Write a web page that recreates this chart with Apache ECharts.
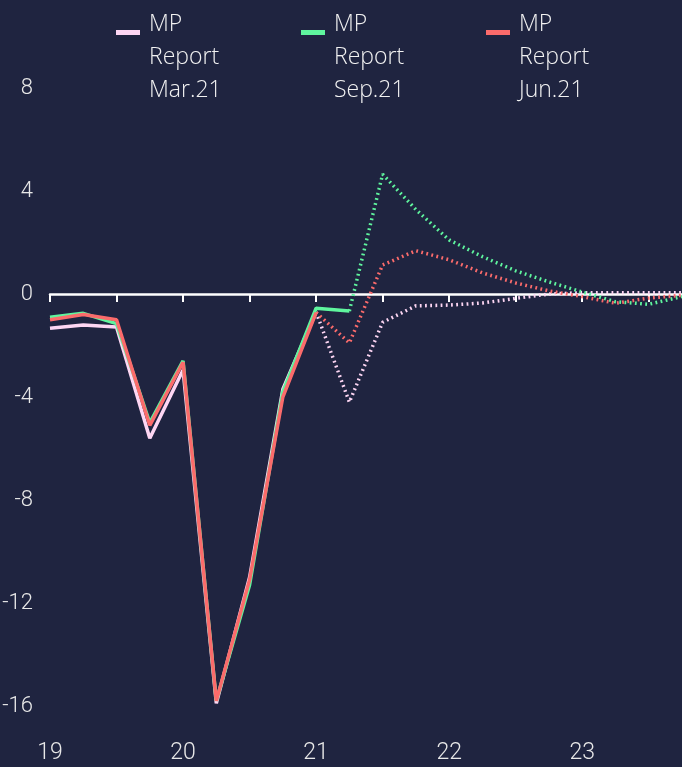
<!DOCTYPE html>
<html>
<head>
<meta charset="utf-8">
<script src="https://cdn.jsdelivr.net/npm/echarts@6/dist/echarts.min.js"></script>
<style>
  html, body { margin: 0; padding: 0; background: #1f2440; }
  #chart { width: 682px; height: 767px; }
</style>
</head>
<body>
<div id="chart"></div>
<script>
// quarters 2019Q1 .. 2023Q4
var quarters = ['19Q1','19Q2','19Q3','19Q4','20Q1','20Q2','20Q3','20Q4',
                '21Q1','21Q2','21Q3','21Q4','22Q1','22Q2','22Q3','22Q4',
                '23Q1','23Q2','23Q3','23Q4'];

var names = ['MP Report Mar.21', 'MP Report Sep.21', 'MP Report Jun.21'];

// outturns (solid) and projections (dotted); projections start at given index
var marActual   = [-1.33, -1.2, -1.28, -5.6, -2.95, -15.9, -11.0, -3.7, -0.7];
var marForecast = [-0.7, -4.2, -1.1, -0.46, -0.43, -0.35, -0.17, 0.0, 0.05, 0.05, 0.05, 0.05];
var marStart = 8;

var sepActual   = [-0.9, -0.75, -1.15, -5.0, -2.6, -15.8, -11.3, -3.8, -0.55, -0.66];
var sepForecast = [-0.66, 4.65, 3.28, 2.1, 1.45, 0.9, 0.47, 0.08, -0.3, -0.4, -0.1];
var sepStart = 9;

var junActual   = [-1.0, -0.8, -1.0, -5.1, -2.65, -15.8, -11.1, -4.0, -0.72];
var junForecast = [-0.72, -1.9, 1.13, 1.68, 1.33, 0.82, 0.43, 0.12, -0.1, -0.36, -0.16, -0.05];
var junStart = 8;

var colors = ['#fdd6f3', '#5ff59e', '#fb6b6b'];

var axisFont = 'Roboto, "Liberation Sans", sans-serif';

function pad(arr, start) {
    var out = [];
    for (var i = 0; i < start; i++) out.push(null);
    return out.concat(arr);
}

function solid(name, data, color) {
    return {
        name: name, type: 'line', data: data, symbol: 'none',
        color: color, lineStyle: { color: color, width: 3.5 }, z: 3
    };
}

function dotted(name, data, start, color) {
    return {
        name: name, type: 'line', data: pad(data, start), symbol: 'none',
        color: color, lineStyle: { color: color, width: 3.5, type: [1.8, 3.4] }, z: 3
    };
}

function legendAt(i, left) {
    return {
        data: [names[i]], left: left, top: -42, padding: 0,
        icon: 'rect', itemWidth: 24, itemHeight: 5,
        // a tall empty first line pushes the name down so "MP" sits beside the icon
        formatter: function (n) {
            return '{s| }\n' + n.split(' ').map(function (w) { return '{t|' + w + '}'; }).join('\n');
        },
        textStyle: {
            color: '#f2f2f2', fontFamily: 'Open Sans', fontSize: 23, lineHeight: 33,
            rich: {
                s: { fontSize: 10, lineHeight: 50 },
                t: {
                    fontFamily: 'Open Sans', fontWeight: 300, fontSize: 23, lineHeight: 33,
                    color: '#f2f2f2', padding: [0, 0, 0, 4]
                }
            }
        }
    };
}

var chart = echarts.init(document.getElementById('chart'), null, { renderer: 'canvas' });

chart.setOption({
    backgroundColor: '#1f2440',
    animation: false,
    legend: [legendAt(0, 116), legendAt(1, 301), legendAt(2, 486)],
    grid: { left: 50, right: 0, top: 88, bottom: 61, containLabel: false, outerBoundsMode: 'none' },
    xAxis: [{
        type: 'category', data: quarters, boundaryGap: false, position: 'bottom',
        axisLine: { onZero: true, lineStyle: { color: '#ffffff', width: 2.5 } },
        axisTick: { show: true, interval: 1, length: 8, lineStyle: { color: '#ffffff', width: 2 } },
        axisLabel: { show: false },
        splitLine: { show: false }
    }, {
        type: 'category', data: quarters, boundaryGap: false, position: 'bottom',
        axisLine: { show: false, onZero: false },
        axisTick: { show: false },
        axisLabel: {
            interval: 3, margin: 36, color: '#e8e8e8',
            fontFamily: axisFont, fontWeight: 300, fontSize: 23,
            formatter: function (v) { return v.slice(0, 2); }
        },
        splitLine: { show: false }
    }],
    yAxis: {
        type: 'value', min: -16, max: 8, interval: 4,
        axisLine: { show: false }, axisTick: { show: false }, splitLine: { show: false },
        axisLabel: { margin: 17, color: '#e8e8e8', fontFamily: axisFont, fontWeight: 300, fontSize: 22 }
    },
    series: [
        solid(names[0], marActual, colors[0]),
        dotted(names[0], marForecast, marStart, colors[0]),
        solid(names[1], sepActual, colors[1]),
        dotted(names[1], sepForecast, sepStart, colors[1]),
        solid(names[2], junActual, colors[2]),
        dotted(names[2], junForecast, junStart, colors[2])
    ]
});
</script>
</body>
</html>
